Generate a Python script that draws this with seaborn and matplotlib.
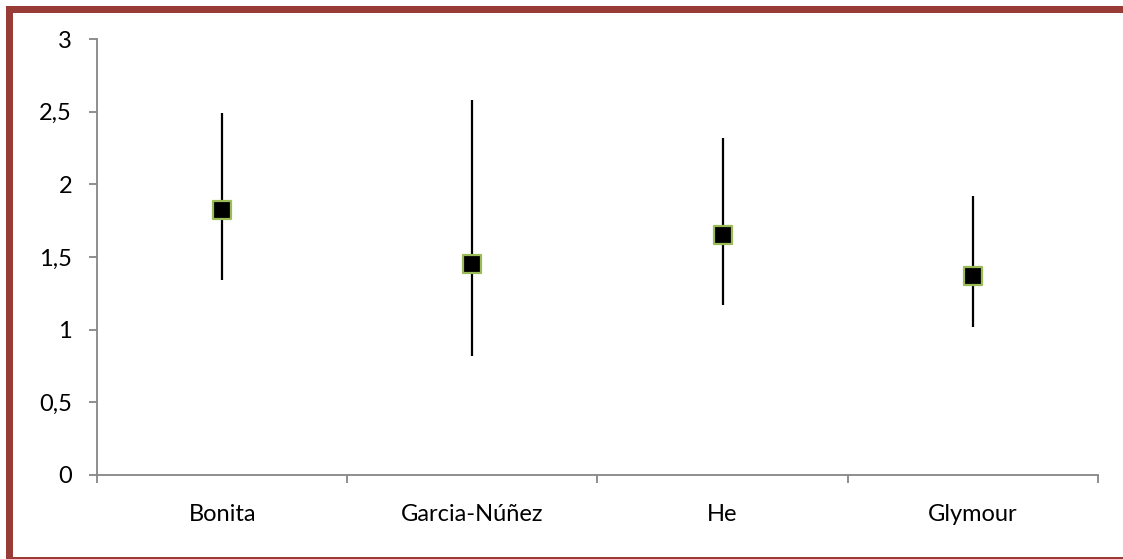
import numpy as np
import pandas as pd
import matplotlib
matplotlib.use("Agg")
import matplotlib.pyplot as plt
from matplotlib.patches import Rectangle
from matplotlib.ticker import FuncFormatter, MultipleLocator, FixedLocator
import seaborn as sns

studies = ["Bonita", "Garcia-Núñez", "He", "Glymour"]
estimate = [1.82, 1.45, 1.65, 1.37]
ci_low = [1.34, 0.82, 1.17, 1.02]
ci_high = [2.49, 2.58, 2.32, 1.92]

df = pd.DataFrame({"study": studies, "estimate": estimate,
                   "low": ci_low, "high": ci_high})

sns.set_theme(style="white")
plt.rcParams["font.family"] = ["Lato", "DejaVu Sans"]

axis_grey = "#868686"
border_red = "#993B37"

fig = plt.figure(figsize=(11.23, 5.59), dpi=100)
ax = fig.add_axes([0.0864, 0.1503, 0.8913, 0.7799])

ax.vlines(np.arange(len(df)), df["low"], df["high"], color="black",
          linewidth=1.6, zorder=2)
sns.scatterplot(data=df, x="study", y="estimate", ax=ax, marker="s", s=165,
                color="black", edgecolor="#9BBB59", linewidth=1.6, zorder=3,
                legend=False)

ax.set_xlim(-0.5, len(df) - 0.5)
ax.set_ylim(0, 3)
ax.yaxis.set_major_locator(MultipleLocator(0.5))
ax.yaxis.set_major_formatter(FuncFormatter(lambda v, p: f"{v:g}".replace(".", ",")))
ax.xaxis.set_major_locator(FixedLocator(range(len(df))))
ax.set_xticklabels(studies)
ax.xaxis.set_minor_locator(FixedLocator(np.arange(-0.5, len(df), 1.0)))
ax.set_xlabel("")
ax.set_ylabel("")

for side in ["top", "right"]:
    ax.spines[side].set_visible(False)
for side in ["left", "bottom"]:
    ax.spines[side].set_color(axis_grey)
    ax.spines[side].set_linewidth(1.3)

ax.tick_params(axis="y", which="major", direction="out", length=6, width=1.3,
               color=axis_grey, labelsize=17, pad=12, left=True)
ax.tick_params(axis="x", which="major", length=0, labelsize=17, pad=21)
ax.tick_params(axis="x", which="minor", direction="out", length=6, width=1.3,
               color=axis_grey, bottom=True)
for lab in ax.get_xticklabels() + ax.get_yticklabels():
    lab.set_color("black")

# cropped chart frame: thick top and left edges, thin bottom
fig.add_artist(Rectangle((6 / 1123, 1 - 13 / 559), 1 - 6 / 1123, 7 / 559,
                         transform=fig.transFigure, color=border_red, lw=0))
fig.add_artist(Rectangle((6 / 1123, 0), 6.5 / 1123, 1 - 6 / 559,
                         transform=fig.transFigure, color=border_red, lw=0))
fig.add_artist(Rectangle((6 / 1123, 0), 1, 2 / 559,
                         transform=fig.transFigure, color=border_red, lw=0))

fig.savefig("out.png", dpi=100, facecolor="white")
